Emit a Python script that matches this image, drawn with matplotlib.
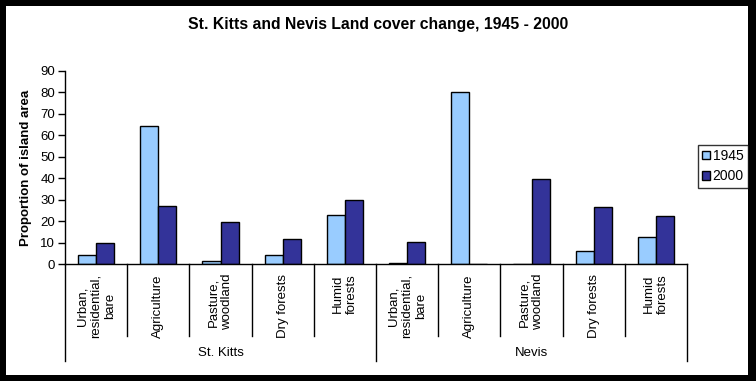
import numpy as np
import matplotlib
matplotlib.use("Agg")
import matplotlib.pyplot as plt
from matplotlib.patches import Rectangle

plt.rcParams["font.family"] = ["Liberation Sans", "DejaVu Sans"]

TITLE = "St. Kitts and Nevis Land cover change, 1945 - 2000"
GROUPS = ["St. Kitts", "Nevis"]
CLASSES = ["Urban,\nresidential,\nbare", "Agriculture", "Pasture,\nwoodland",
           "Dry forests", "Humid\nforests"]
SERIES = ["1945", "2000"]
kitts_1945 = [4.2, 64.5, 1.7, 4.5, 22.8]
kitts_2000 = [10.1, 27.3, 19.8, 11.9, 30.1]
nevis_1945 = [0.4, 80.3, 0.0, 6.4, 12.9]
nevis_2000 = [10.5, 0.3, 39.8, 26.5, 22.6]
YTICKS = [0, 10, 20, 30, 40, 50, 60, 70, 80, 90]

COLORS = ["#99CCFF", "#333399"]

W, H = 756, 381
fig = plt.figure(figsize=(W / 100, H / 100), dpi=100)
fig.patch.set_facecolor("black")
fig.patches.append(Rectangle((6 / W, 6 / H), 742 / W, 369 / H, transform=fig.transFigure,
                             facecolor="white", edgecolor="none", zorder=-10))

# plot area in pixels: x 65..687, y(0)=264.3, y(90)=70.7
x0, x1, yb, yt = 65, 687, 264.3, 70.7
ax = fig.add_axes([x0 / W, (H - yb) / H, (x1 - x0) / W, (yb - yt) / H])
ax.set_facecolor("none")

v1945 = kitts_1945 + nevis_1945
v2000 = kitts_2000 + nevis_2000
x = np.arange(len(v1945))
bw = 0.29
ax.bar(x - bw / 2, v1945, bw, color=COLORS[0], edgecolor="black", linewidth=1, label=SERIES[0])
ax.bar(x + bw / 2, v2000, bw, color=COLORS[1], edgecolor="black", linewidth=1, label=SERIES[1])

ax.set_xlim(-0.5, len(x) - 0.5)
ax.set_ylim(0, 90)
ax.set_yticks(YTICKS)
ax.tick_params(axis="y", direction="out", length=5, width=1, labelsize=9.5, pad=2)
ax.set_xticks([])
for s in ["top", "right"]:
    ax.spines[s].set_visible(False)
ax.spines["left"].set_linewidth(1)
ax.spines["bottom"].set_linewidth(1)

ax.set_ylabel("Proportion of island area", fontsize=9.5, fontweight="bold")
ax.yaxis.set_label_coords(-0.053, 0.5)

# multi-level category axis
tr = ax.get_xaxis_transform()
hpx = yb - yt
inner = -(336 - yb) / hpx
outer = -(361 - yb) / hpx
for b in np.arange(len(x) + 1) - 0.5:
    is_group = b in (-0.5, 4.5, 9.5)
    ax.plot([b, b], [0, outer if is_group else inner], color="black", lw=1,
            transform=tr, clip_on=False)
labels = CLASSES + CLASSES
for i, lab in enumerate(labels):
    ax.text(x[i], -(274 - yb) / hpx, lab, transform=tr, rotation=90, ha="center",
            va="top", multialignment="center", fontsize=9.5, clip_on=False)
for g, name in enumerate(GROUPS):
    ax.text(g * 5 + 2, -(353 - yb) / hpx, name, transform=tr, ha="center",
            va="center", fontsize=9.5, clip_on=False)

fig.text(0.5, 1 - 25 / H, TITLE, ha="center", va="center", fontsize=11.3, fontweight="bold")

leg = fig.legend(loc="upper left", bbox_to_anchor=(698 / W, 1 - 145 / H), fontsize=10,
                 handlelength=0.55, handleheight=0.55, handletextpad=0.2, borderpad=0.3,
                 labelspacing=0.45, borderaxespad=0, fancybox=False, frameon=True)
leg.get_frame().set_edgecolor("black")
leg.get_frame().set_linewidth(1)

fig.savefig("out.png", dpi=100, facecolor=fig.get_facecolor())
